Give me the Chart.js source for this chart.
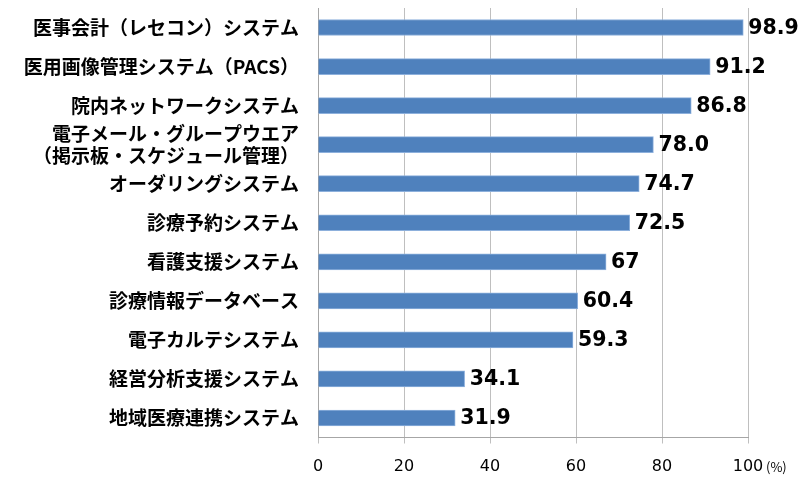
<!DOCTYPE html>
<html>
<head>
<meta charset="utf-8">
<script src="https://cdn.jsdelivr.net/npm/chart.js@4"></script>
<style>
  html, body { margin: 0; padding: 0; background: #fff; }
  #wrap { width: 800px; height: 486px; }
</style>
</head>
<body>
<div id="wrap"><canvas id="barChart"></canvas></div>
<script>
// categories, top to bottom
const categories = [
    '医事会計（レセコン）システム',
    '医用画像管理システム（PACS）',
    '院内ネットワークシステム',
    ['電子メール・グループウエア', '（掲示板・スケジュール管理）'],
    'オーダリングシステム',
    '診療予約システム',
    '看護支援システム',
    '診療情報データベース',
    '電子カルテシステム',
    '経営分析支援システム',
    '地域医療連携システム'
];
const values = [98.9, 91.2, 86.8, 78.0, 74.7, 72.5, 67, 60.4, 59.3, 34.1, 31.9];
const valueText = ['98.9', '91.2', '86.8', '78.0', '74.7', '72.5', '67', '60.4', '59.3', '34.1', '31.9'];
const xTicks = [0, 20, 40, 60, 80, 100];

// value labels at the end of each bar
const valueLabels = {
    id: 'valueLabels',
    afterDatasetsDraw(chart) {
        const ctx = chart.ctx;
        const meta = chart.getDatasetMeta(0);
        ctx.save();
        ctx.font = 'bold 20.5px "DejaVu Sans"';
        ctx.fillStyle = '#000';
        ctx.textBaseline = 'middle';
        ctx.textAlign = 'left';
        meta.data.forEach((bar, i) => {
            ctx.fillText(valueText[i], bar.x + 5, bar.y + 1);
        });
        ctx.restore();
    }
};

// unit next to the last x tick
const unitLabel = {
    id: 'unitLabel',
    afterDraw(chart) {
        const x = chart.scales.x;
        const ctx = chart.ctx;
        ctx.save();
        ctx.font = '13px "Noto Sans CJK JP"';
        ctx.fillStyle = '#000';
        ctx.textBaseline = 'middle';
        ctx.textAlign = 'left';
        ctx.fillText('(%)', x.right + 18, 467);
        ctx.restore();
    }
};

const ctx = document.getElementById('barChart').getContext('2d');
new Chart(ctx, {
    type: 'bar',
    data: {
        labels: categories,
        datasets: [{
            data: values,
            backgroundColor: '#4F81BD',
            borderColor: '#8DB0DC',
            borderWidth: 1,
            barThickness: 16
        }]
    },
    options: {
        indexAxis: 'y',
        responsive: true,
        maintainAspectRatio: false,
        animation: false,
        layout: { padding: { left: 0, right: 52, top: 8, bottom: 0 } },
        plugins: {
            legend: { display: false },
            tooltip: { enabled: false }
        },
        scales: {
            x: {
                min: 0,
                max: 100,
                afterBuildTicks: (scale) => { scale.ticks = xTicks.map(v => ({ value: v })); },
                afterFit: (scale) => { scale.height = 48.5; },
                grid: { color: '#BFBFBF', lineWidth: 1, tickLength: 6 },
                border: { color: '#A6A6A6' },
                ticks: {
                    padding: 14,
                    color: '#000',
                    font: { family: 'DejaVu Sans', size: 16 },
                    maxRotation: 0
                }
            },
            y: {
                afterFit: (scale) => {
                    scale.width = 318;
                    scale.paddingTop = 0;
                    scale.paddingBottom = 0;
                },
                grid: { display: false },
                border: { display: true, color: '#A6A6A6' },
                ticks: {
                    autoSkip: false,
                    padding: 11,
                    color: '#000',
                    font: { family: '"Noto Sans CJK JP"', size: 19, weight: 'bold', lineHeight: 1.17 }
                }
            }
        }
    },
    plugins: [valueLabels, unitLabel]
});
</script>
</body>
</html>
